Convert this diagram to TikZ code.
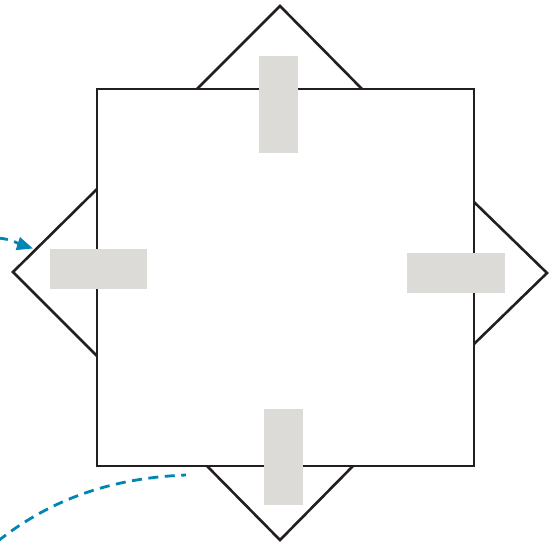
\documentclass[tikz,border=0pt]{standalone}
\usetikzlibrary{arrows.meta}
\definecolor{ink}{RGB}{35,31,32}
\definecolor{pad}{RGB}{220,219,216}
\definecolor{flow}{RGB}{0,134,178}
\begin{document}
\begin{tikzpicture}[x=1pt,y=-1pt,
  outline/.style={draw=ink,line width=2.6pt,line join=miter},
  flowline/.style={draw=flow,line width=2.8pt,dash pattern=on 10pt off 6.5pt}]
\useasboundingbox (0,0) rectangle (556,544);
% square
\draw[outline] (97,89) rectangle (474,466);
% triangles
\draw[outline] (197,89) -- (280,6) -- (362,89);
\draw[outline] (97,189) -- (13,272) -- (97,356);
\draw[outline] (474,202) -- (547,273) -- (474,344);
\draw[outline] (207,466) -- (280,540) -- (353,466);
% gray pads
\fill[pad] (259,56) rectangle (298,153);
\fill[pad] (50,249) rectangle (147,289);
\fill[pad] (407,253) rectangle (505,293);
\fill[pad] (264,409) rectangle (303,505);
% connectors
\coordinate (s1) at (-2,238);
\coordinate (t1) at (33,248.5);
\draw[flowline,-{Triangle[length=16pt,width=13pt]}] (s1) to[out=-5,in=162] (t1);
\coordinate (s2) at (-2,541);
\coordinate (t2) at (186,475);
\draw[flowline] (s2) .. controls (50,500) and (110,478) .. (t2);
\end{tikzpicture}
\end{document}
